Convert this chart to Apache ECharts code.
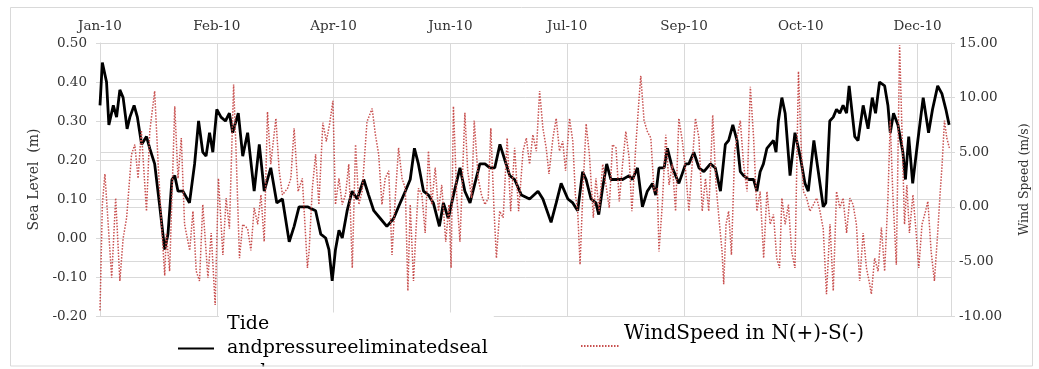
<!DOCTYPE html>
<html>
<head>
<meta charset="utf-8">
<script src="https://cdn.jsdelivr.net/npm/echarts@6/dist/echarts.min.js"></script>
<style>
  html, body { margin: 0; padding: 0; background: #fff; }
  #chart { width: 1039px; height: 369px; }
</style>
</head>
<body>
<div id="chart"></div>
<script>
// Days counted from 2 Jan 2010; top axis ticks every 50 days.
const xTickLabels = ['Jan-10', 'Feb-10', 'Apr-10', 'Jun-10', 'Jul-10', 'Sep-10', 'Oct-10', 'Dec-10'];

// Tide and pressure eliminated sea level (m)
const seaDays = [
  0, 1.0, 2.8, 3.8, 5.7, 7.1, 8.5, 9.9, 11.6, 12.8, 14.6, 16.0, 17.8, 19.9, 21.3, 23.4, 25.6, 27.7, 29.1, 30.8, 32.0, 33.4, 35.5, 38.3, 40.5, 42.2, 44.0, 45.4, 46.9, 48.3, 50.0, 51.8, 53.7, 55.4, 56.8, 59.2, 61.1, 63.2, 66.0, 68.2, 70.3, 73.1, 75.7, 78.1, 81.0, 83.1, 85.2, 88.8,
  92.3, 94.5, 96.6, 98.0, 99.4, 100.8, 102.3, 103.7, 105.8, 107.9, 110.1, 112.9, 115.0, 117.2, 120.0, 122.8, 125.7, 127.8, 130.7, 132.8, 134.6, 136.3, 138.5, 140.6, 142.7, 145.3, 147.0, 149.1, 151.3, 154.1, 156.2, 158.4, 160.5, 162.6, 164.8, 166.9, 169.0, 171.2, 173.3, 175.4, 177.5, 180.4,
  183.9, 187.5, 189.6, 193.1, 195.3, 197.4, 200.3, 202.4, 204.5, 206.6, 208.1, 210.2, 212.3, 213.5, 215.2, 216.9, 218.7, 220.8, 223.7, 226.5, 227.9, 230.1, 232.2, 234.3, 236.5, 237.9, 239.3, 241.5, 242.9, 245.0, 247.8, 250.7, 252.1, 254.2, 256.4, 258.5, 261.3, 263.4, 265.6, 267.7, 269.1, 270.9,
  272.7, 274.1, 275.5, 277.7, 279.8, 281.2, 282.6, 284.0, 285.5, 286.9, 288.3, 289.4, 290.4, 291.9, 293.3, 295.4, 297.5, 299.7, 301.8, 303.2, 305.6, 307.5, 309.6, 310.7, 312.4, 313.9, 315.3, 316.7, 318.1, 319.6, 320.7, 323.1, 324.5, 326.7, 328.8, 330.6, 332.0, 333.7, 335.9, 337.3, 338.3, 339.7, 341.6, 343.7, 344.8, 346.2, 347.9, 350.1, 352.4, 354.7, 356.4, 358.6, 360.4, 362.1, 363.5
];
const seaLevel = [
  0.34, 0.45, 0.40, 0.29, 0.34, 0.31, 0.38, 0.36, 0.28, 0.31, 0.34, 0.31, 0.24, 0.26, 0.23, 0.19, 0.08, -0.03, 0.01, 0.15, 0.16, 0.12, 0.12, 0.09, 0.19, 0.30, 0.22, 0.21, 0.27, 0.22, 0.33, 0.31, 0.30, 0.32, 0.27, 0.32, 0.21, 0.27, 0.12, 0.24, 0.12, 0.18, 0.09, 0.10, -0.01, 0.03, 0.08, 0.08,
  0.07, 0.01, 0.00, -0.03, -0.11, -0.03, 0.02, 0.00, 0.07, 0.12, 0.10, 0.15, 0.11, 0.07, 0.05, 0.03, 0.05, 0.08, 0.12, 0.15, 0.23, 0.19, 0.12, 0.11, 0.09, 0.03, 0.09, 0.05, 0.11, 0.18, 0.12, 0.09, 0.14, 0.19, 0.19, 0.18, 0.18, 0.24, 0.20, 0.16, 0.15, 0.11,
  0.10, 0.12, 0.10, 0.04, 0.09, 0.14, 0.10, 0.09, 0.07, 0.17, 0.15, 0.10, 0.09, 0.06, 0.13, 0.19, 0.15, 0.15, 0.15, 0.16, 0.15, 0.18, 0.08, 0.12, 0.14, 0.11, 0.18, 0.18, 0.23, 0.18, 0.14, 0.19, 0.19, 0.22, 0.18, 0.17, 0.19, 0.18, 0.12, 0.24, 0.25, 0.29,
  0.25, 0.17, 0.16, 0.15, 0.15, 0.12, 0.17, 0.19, 0.23, 0.24, 0.25, 0.22, 0.30, 0.36, 0.32, 0.16, 0.27, 0.21, 0.14, 0.12, 0.25, 0.17, 0.08, 0.09, 0.30, 0.31, 0.33, 0.32, 0.34, 0.32, 0.39, 0.26, 0.25, 0.34, 0.28, 0.36, 0.32, 0.40, 0.39, 0.34, 0.27, 0.32, 0.29, 0.22, 0.15, 0.26, 0.14, 0.25, 0.36, 0.27, 0.33, 0.39, 0.37, 0.33, 0.29
];

// Wind speed, north positive / south negative (m/s)
const windDays = [
  0, 1.0, 2.1, 5.0, 6.7, 8.5, 9.9, 11.4, 13.5, 14.9, 16.3, 17.7, 19.9, 21.3, 23.4, 24.9, 26.3, 27.7, 28.4, 29.8, 32.0, 33.4, 34.8, 36.2, 38.4, 39.8, 41.2, 42.6, 44.0, 46.2, 47.6, 49.3, 50.7, 52.6, 54.0, 55.4, 57.2, 58.2, 59.7, 61.1, 63.2, 64.6, 66.0, 67.5, 68.9, 70.3, 71.7, 73.1, 75.3, 76.7, 78.1, 80.3, 81.7, 83.1, 84.8, 86.6, 88.8,
  89.5, 90.9, 92.3, 93.7, 95.4, 96.9, 98.3, 99.7, 100.8, 102.3, 103.7, 105.1, 106.5, 108.0, 109.4, 110.8, 112.2, 114.3, 116.5, 117.9, 119.3, 120.7, 122.1, 123.6, 125.0, 126.4, 127.8, 129.3, 130.7, 131.8, 132.8, 134.2, 135.2, 136.3, 137.8, 139.2, 140.6, 142.0, 143.5, 144.9, 146.3, 148.0, 149.4, 150.3, 151.3, 152.7, 154.1, 156.2, 157.4, 159.1, 160.2, 161.9, 163.3, 164.8, 166.2, 167.3, 168.7, 169.7, 171.1, 172.6, 174.3, 175.8, 177.5, 179.2,
  181.1, 182.5, 183.9, 185.3, 186.8, 188.2, 189.6, 191.0, 192.2, 193.9, 195.3, 196.7, 198.1, 199.3, 201.0, 202.4, 203.5, 204.5, 205.5, 206.6, 208.1, 209.5, 211.2, 212.3, 213.7, 215.2, 216.6, 218.0, 219.4, 220.9, 222.3, 223.7, 225.1, 226.5, 227.7, 229.4, 230.8, 231.5, 232.9, 234.3, 235.8, 237.2, 238.6, 239.3, 240.7, 242.2, 243.6, 245.0, 246.4, 247.8, 249.3, 250.7, 252.1, 253.5, 254.9, 256.4, 257.8, 259.2, 260.6, 262.3, 263.7, 265.2, 266.3, 267.0, 268.0, 269.1, 270.3, 271.7,
  272.7, 274.1, 275.5, 277.0, 278.4, 279.8, 281.2, 282.6, 284.1, 285.5, 286.9, 288.3, 289.7, 290.9, 291.9, 293.3, 294.7, 296.1, 297.5, 299.0, 300.0, 301.1, 302.5, 303.9, 305.4, 306.8, 308.2, 309.6, 311.0, 312.5, 313.9, 315.3, 316.7, 318.1, 319.6, 321.0, 322.4, 323.8, 325.2, 326.7, 328.1, 329.5, 330.2, 331.6, 333.1, 334.5, 335.9, 337.3, 338.3, 339.4, 340.9, 342.3, 343.4, 344.4, 345.4, 346.5, 348.0, 349.4, 350.5, 351.9, 353.4, 354.4, 355.8, 357.2, 358.6, 359.6, 360.5, 361.5, 362.5, 363.6
];
const windSpeed = [
  -9.5, 0.2, 3.0, -6.5, 0.8, -6.8, -2.9, -1.0, 4.8, 5.7, 2.6, 7.0, -0.4, 6.9, 10.6, 3.9, -1.5, -6.3, -2.4, -5.9, 9.2, 2.6, 6.3, -1.6, -4.0, -0.4, -5.9, -6.8, 0.2, -6.5, -2.4, -9.0, 2.6, -4.4, 0.8, -2.0, 11.2, 5.4, -4.7, -1.6, -2.0, -4.0, -0.1, -1.6, 1.1, -3.2, 8.7, 3.9, 8.1, 3.3, 1.1, 1.7, 2.6, 7.2, 1.4, 2.6, -5.6,
  -4.1, 1.7, 4.8, 0.2, 7.7, 6.0, 7.6, 9.7, 0.2, 2.6, 0.2, 1.1, 3.9, -5.6, 5.7, 0.2, 1.4, 7.8, 9.0, 6.6, 4.8, 0.2, 2.6, 3.3, -4.4, 0.8, 5.4, 2.6, 1.7, -7.7, 0.2, -6.8, -2.4, 1.7, 1.1, -2.4, 5.1, 0.2, 3.6, -0.4, 2.0, -3.2, 0.2, -5.6, 9.2, 1.1, -3.2, 8.6, 3.3, 0.8, 7.9, 2.6, 1.1, 0.2, 0.8, 7.2, -0.4, -4.7, -0.4, -1.0, 6.3, -0.4, 5.4, -0.4,
  5.1, 6.3, 3.9, 6.6, 5.1, 10.6, 7.2, 5.4, 3.0, 6.3, 8.1, 5.1, 6.0, 3.3, 8.1, 6.0, 1.1, -0.4, -5.3, 0.8, 7.6, 4.8, -1.0, 2.6, -0.4, 3.9, 2.0, -0.1, 5.7, 5.4, 0.5, 3.9, 6.9, 4.5, -0.4, 5.7, 10.0, 12.0, 7.9, 6.9, 6.3, 1.4, 1.7, -4.1, 0.2, 6.6, 2.0, 3.9, -0.4, 8.1, 6.0, 3.3, -0.4, 3.9, 8.1, 6.3, -0.4, 2.6, -0.4, 8.4, 2.0, -1.6, -4.1, -7.1, -1.6, -0.4, -4.4, 5.1,
  6.3, 7.9, 3.9, 1.4, 11.0, 6.3, -0.4, 1.4, -4.7, 1.4, -1.6, -0.7, -4.7, -5.6, 0.8, -1.6, 0.2, -4.1, -5.6, 12.4, 6.3, 1.4, 0.8, -0.4, 0.2, 0.8, -0.4, -2.0, -8.0, -1.6, -7.7, 1.4, -0.1, 0.8, -2.4, 0.8, 0.2, -1.6, -6.8, -2.4, -5.6, -7.1, -8.0, -4.7, -5.9, -1.9, -5.9, 0.8, 7.9, 1.1, -5.3, 14.8, 6.3, -1.6, 2.0, -2.4, 1.1, -2.4, -5.6, -1.6, -0.4, 0.5, -4.1, -6.8, -2.4, 1.1, 3.9, 7.9, 6.3, 5.4
];

const seaName = 'Tide\nandpressureeliminatedseal\nevel';
const windName = 'WindSpeed in N(+)-S(-)';

const FONT = 'DejaVu Serif';
const GRID_COLOR = '#d9d9d9';
const TEXT_COLOR = '#333';
const WIND_COLOR = '#c8504f';

const chart = echarts.init(document.getElementById('chart'), null, { renderer: 'canvas' });

chart.setOption({
  animation: false,
  backgroundColor: '#fff',
  grid: { left: 100, right: 84, top: 43, bottom: 53, containLabel: false },
  xAxis: {
    type: 'value',
    position: 'top',
    min: 0,
    max: 364.3,
    interval: 50,
    axisLine: { show: false },
    axisTick: { show: false },
    splitLine: { show: true, lineStyle: { color: GRID_COLOR, width: 1 } },
    axisLabel: {
      margin: 10,
      showMaxLabel: false,
      fontFamily: FONT,
      fontSize: 13.5,
      color: TEXT_COLOR,
      formatter: v => (v % 50 === 0 ? (xTickLabels[v / 50] || '') : '')
    }
  },
  yAxis: [
    {
      type: 'value',
      position: 'left',
      min: -0.2,
      max: 0.5,
      interval: 0.1,
      name: 'Sea Level  (m)',
      nameLocation: 'middle',
      nameRotate: 90,
      nameGap: 48,
      nameTextStyle: { fontFamily: FONT, fontSize: 14, color: TEXT_COLOR },
      axisLine: { show: true, lineStyle: { color: GRID_COLOR } },
      axisTick: { show: true, length: 4, lineStyle: { color: GRID_COLOR } },
      splitLine: { show: true, lineStyle: { color: GRID_COLOR, width: 1 } },
      axisLabel: {
        margin: 13,
        fontFamily: FONT,
        fontSize: 13.5,
        color: TEXT_COLOR,
        formatter: v => v.toFixed(2)
      }
    },
    {
      type: 'value',
      position: 'right',
      min: -10,
      max: 15,
      interval: 5,
      name: 'Wind Speed (m/s)',
      nameLocation: 'middle',
      nameRotate: 90,
      nameGap: 67,
      nameTextStyle: { fontFamily: FONT, fontSize: 12.5, color: TEXT_COLOR },
      axisLine: { show: true, lineStyle: { color: GRID_COLOR } },
      axisTick: { show: true, length: 4, lineStyle: { color: GRID_COLOR } },
      splitLine: { show: true, lineStyle: { color: GRID_COLOR, width: 1 } },
      axisLabel: {
        margin: 8,
        fontFamily: FONT,
        fontSize: 13.5,
        color: TEXT_COLOR,
        formatter: v => v.toFixed(2)
      }
    }
  ],
  legend: [
    {
      data: [seaName],
      left: 177,
      top: 312.5,
      padding: 0,
      itemWidth: 36,
      itemHeight: 14,
      itemStyle: { opacity: 0 },
      textStyle: {
        fontFamily: FONT, fontSize: 19, lineHeight: 24, color: '#000',
        backgroundColor: '#fff', padding: [0, 6, 0, 8]
      }
    },
    {
      data: [windName],
      left: 580,
      top: 322,
      padding: 0,
      itemWidth: 38,
      itemHeight: 14,
      itemStyle: { opacity: 0 },
      // the blank second line lifts the label above the line sample
      formatter: name => name + '\n ',
      textStyle: {
        fontFamily: FONT, fontSize: 20, lineHeight: 24, color: '#000'
      }
    }
  ],
  graphic: [
    {
      type: 'rect',
      z: 100,
      silent: true,
      shape: { x: 0, y: 366.5, width: 1039, height: 3 },
      style: { fill: '#fff' }
    },
    {
      type: 'rect',
      z: 101,
      silent: true,
      shape: { x: 10.5, y: 7.5, width: 1022, height: 358.5 },
      style: { fill: 'none', stroke: GRID_COLOR, lineWidth: 1 }
    }
  ],
  series: [
    {
      name: seaName,
      type: 'line',
      yAxisIndex: 0,
      symbol: 'none',
      data: seaDays.map((d, i) => [d, seaLevel[i]]),
      lineStyle: { color: '#000', width: 2.8 },
      itemStyle: { color: '#000' },
      z: 2
    },
    {
      name: windName,
      type: 'line',
      yAxisIndex: 1,
      symbol: 'none',
      data: windDays.map((d, i) => [d, windSpeed[i]]),
      lineStyle: { color: WIND_COLOR, width: 1.5, type: [1.5, 1.5] },
      itemStyle: { color: WIND_COLOR },
      z: 3
    }
  ]
});
</script>
</body>
</html>
